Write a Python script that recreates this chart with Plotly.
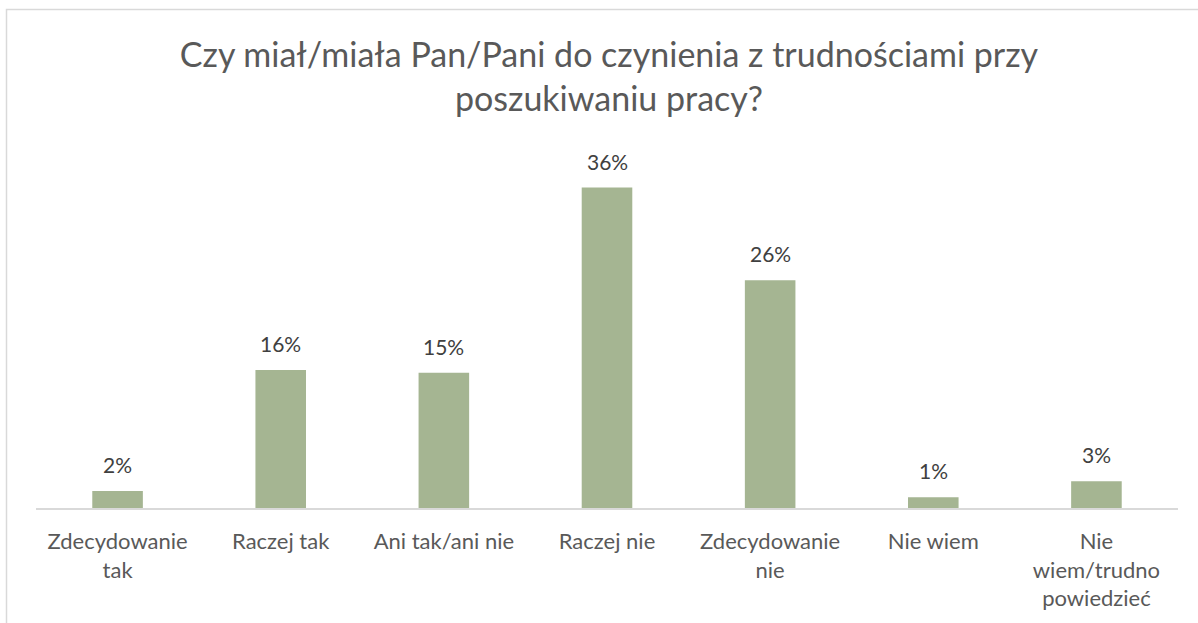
import plotly.graph_objects as go

categories = ["Zdecydowanie<br>tak", "Raczej tak", "Ani tak/ani nie", "Raczej nie",
              "Zdecydowanie<br>nie", "Nie wiem", "Nie<br>wiem/trudno<br>powiedzieć"]
values = [0.019, 0.155, 0.152, 0.36, 0.256, 0.012, 0.030]
labels = ["2%", "16%", "15%", "36%", "26%", "1%", "3%"]

title_text = "Czy miał/miała Pan/Pani do czynienia z trudnościami przy<br>poszukiwaniu pracy?"

W, H = 1198, 623
L, R, T, B = 36, 20, 152, 115

fig = go.Figure(go.Bar(
    x=categories, y=values,
    marker=dict(color="#A5B592", line=dict(width=0)),
    width=0.31,
    hoverinfo="x+y",
))

for c, v, t in zip(categories, values, labels):
    fig.add_annotation(x=c, y=v, text=t, showarrow=False, yanchor="bottom",
                       yshift=12, font=dict(family="Lato", size=21, color="#404040"))

pw = W - L - R
ph = H - T - B
fig.add_shape(type="rect", xref="paper", yref="paper",
              x0=(6.5 - L) / pw, x1=(1205 - L) / pw,
              y0=(H - B - 630) / ph, y1=(H - B - 9.5) / ph,
              line=dict(color="#D9D9D9", width=1.5), layer="below")

fig.update_layout(
    width=W, height=H,
    margin=dict(l=L, r=R, t=T, b=B, pad=0),
    paper_bgcolor="white", plot_bgcolor="white",
    title=dict(text=title_text, x=609 / W, xanchor="center",
               y=1 - 67 / H, yanchor="middle",
               font=dict(family="Lato", size=34, color="#595959")),
    showlegend=False,
    xaxis=dict(showline=True, linecolor="#D9D9D9", linewidth=1.5,
               ticks="", showgrid=False, ticklabelstandoff=13,
               tickfont=dict(family="Lato", size=22, color="#595959")),
    yaxis=dict(range=[0, 0.4], visible=False, showgrid=False, zeroline=False),
)

fig.write_html("out.html", config={"displayModeBar": False},
               post_script="document.body.style.margin='0';")
